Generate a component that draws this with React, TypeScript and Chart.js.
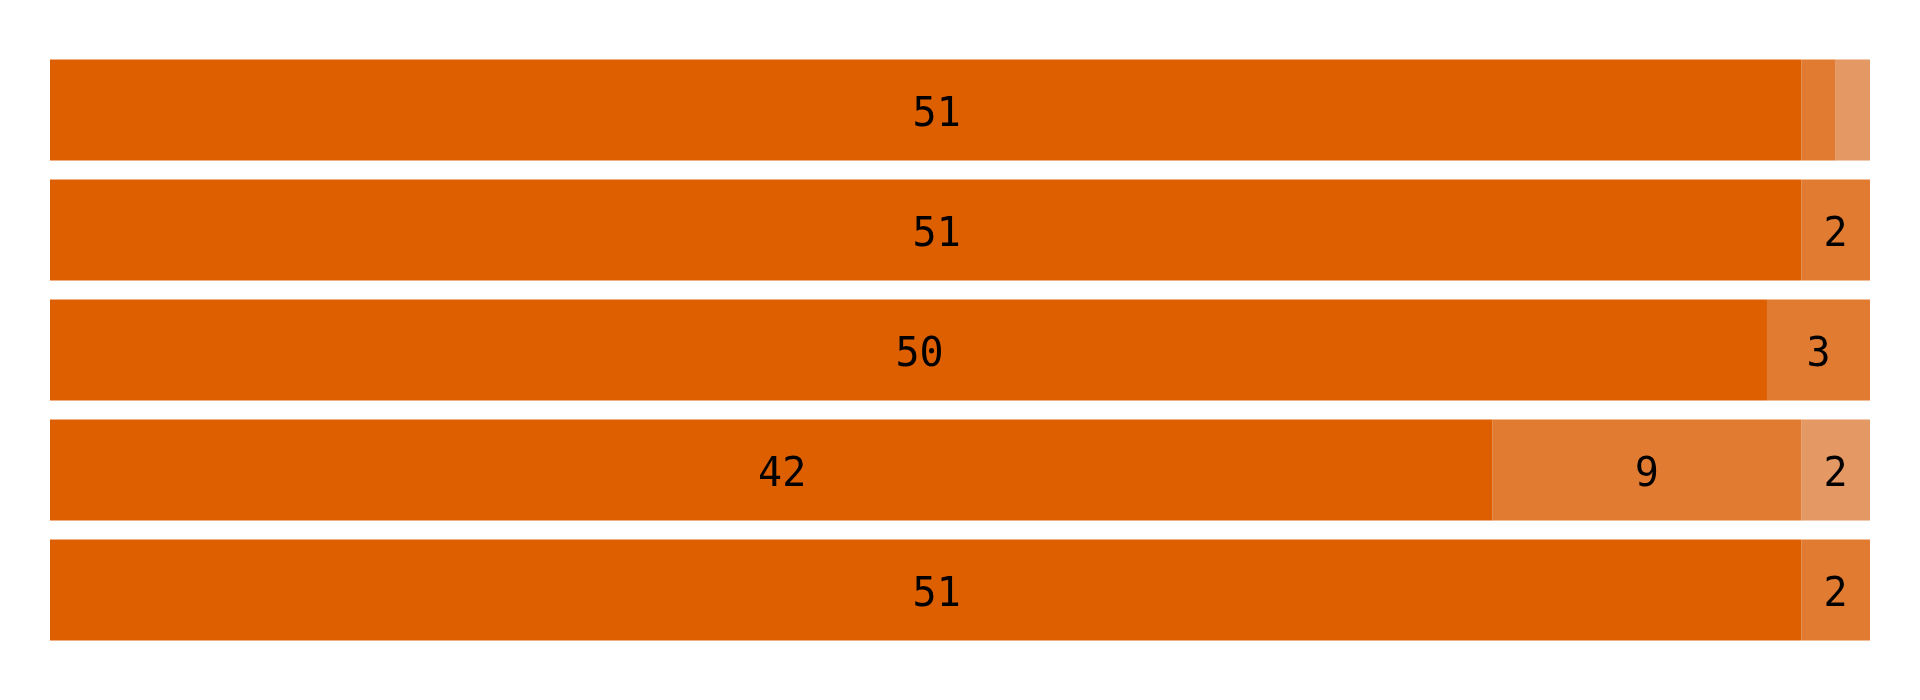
import React, { useEffect, useRef } from "react";
import { Chart, registerables } from "chart.js";

Chart.register(...registerables);

const categories = ["A", "B", "C", "D", "E"];
const seriesA = [51, 51, 50, 42, 51];
const seriesB = [1, 2, 3, 9, 2];
const seriesC = [1, 0, 0, 2, 0];
const axisMax = 53;
const minLabelValue = 2;

const colors = ["#DD5F00", "#E07B31", "#E49863"];

const FONT_SIZE = 40;

const labelPlugin = {
  id: "segLabels",
  afterDatasetsDraw(chart: any) {
    const ctx = chart.ctx;
    const area = chart.chartArea;
    ctx.save();
    ctx.font = `${FONT_SIZE}px 'DejaVu Sans Mono', monospace`;
    ctx.fillStyle = "#000000";
    ctx.textAlign = "center";
    ctx.textBaseline = "alphabetic";
    chart.data.datasets.forEach((ds: any, di: number) => {
      const meta = chart.getDatasetMeta(di);
      meta.data.forEach((el: any, i: number) => {
        const v = ds.data[i];
        if (v == null || v < minLabelValue) return;
        const p = el.getProps(["x", "y", "base"], true);
        const start = Math.max(Math.min(p.base, p.x), area.left + 22);
        const end = Math.max(p.base, p.x);
        const cx = (start + end) / 2;
        ctx.fillText(String(v), cx, p.y + 0.3645 * FONT_SIZE + 1.5);
      });
    });
    ctx.restore();
  },
};

export default function App() {
  const ref = useRef<HTMLCanvasElement | null>(null);
  useEffect(() => {
    if (!ref.current) return;
    const chart = new Chart(ref.current, {
      type: "bar",
      data: {
        labels: categories,
        datasets: [
          { data: seriesA, backgroundColor: colors[0], borderWidth: 0 },
          { data: seriesB, backgroundColor: colors[1], borderWidth: 0 },
          { data: seriesC, backgroundColor: colors[2], borderWidth: 0 },
        ],
      },
      options: {
        indexAxis: "y",
        animation: false,
        responsive: false,
        maintainAspectRatio: false,
        devicePixelRatio: 1,
        layout: { padding: { left: 50, right: 50, top: 50, bottom: 50 } },
        datasets: { bar: { categoryPercentage: 1, barPercentage: 101 / 120 } },
        plugins: {
          legend: { display: false },
          tooltip: { enabled: false },
          title: { display: false },
        },
        scales: {
          x: { stacked: true, min: 0, max: axisMax, display: false },
          y: { stacked: true, display: false },
        },
      },
      plugins: [labelPlugin],
    });
    return () => chart.destroy();
  }, []);
  return (
    <div style={{ position: "absolute", left: 0, top: 0, width: 1920, height: 700, background: "#fff" }}>
      <canvas ref={ref} width={1920} height={700} style={{ display: "block", width: 1920, height: 700 }} />
    </div>
  );
}
